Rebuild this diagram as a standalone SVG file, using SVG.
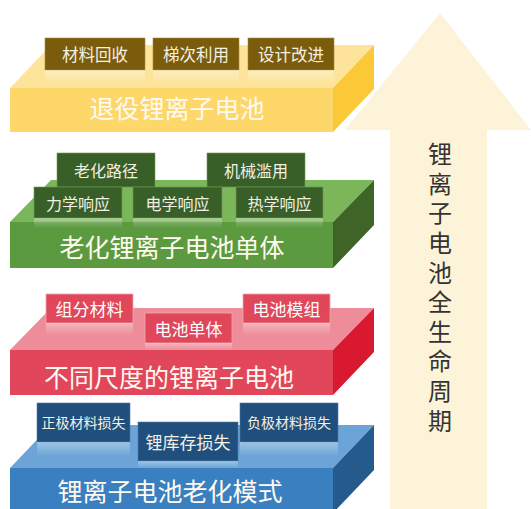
<svg xmlns="http://www.w3.org/2000/svg" width="531" height="509" viewBox="0 0 531 509">
<defs>
<style>
text{font-family:"Noto Sans CJK SC","Noto Sans",sans-serif;text-anchor:middle;dominant-baseline:central}
.main{font-size:25px;fill:#fffaf0}
.lbl{font-size:16px;fill:#f4f0e4}
.arrowtxt{font-size:24px;fill:#333;writing-mode:vertical-rl;text-anchor:start;letter-spacing:5.6px}
.ybox{fill:#7a5c0c;stroke:#a88a40;stroke-width:0.6}
.gbox{fill:#395f29;stroke:#6f9a55;stroke-width:0.6}
.rbox{fill:#e0475a;stroke:#f3a6b0;stroke-width:0.8}
.bbox{fill:#214f7d;stroke:#4f7ca8;stroke-width:0.6}
</style>
<linearGradient id="refl" x1="0" y1="0" x2="0" y2="1">
<stop offset="0" stop-color="#ffffff" stop-opacity="0.35"/>
<stop offset="1" stop-color="#ffffff" stop-opacity="0"/>
</linearGradient>
</defs>

<g id="arrow">
<polygon points="440,13 531,130 487,130 487,509 390,509 390,130 345,130" fill="#fdf3d8"/>
<text class="arrowtxt" x="440" y="142">锂离子电池全生命周期</text>
</g>

<g id="retired">
<polygon points="10,88 333,88 374,45 51,45" fill="#fde49a"/>
<polygon points="333,88 374,45 374,89 333,132" fill="#fbc938"/>
<rect x="10" y="88" width="323" height="44" fill="#fdd76a"/>
<g id="r-recycle"><rect class="ybox" x="45" y="38" width="100" height="32"/><rect x="45" y="70" width="100" height="14" fill="url(#refl)"/><text class="lbl" x="95" y="54" style="font-size:16.5px">材料回收</text></g>
<g id="r-cascade"><rect class="ybox" x="153" y="38" width="86" height="32"/><rect x="153" y="70" width="86" height="14" fill="url(#refl)"/><text class="lbl" x="196" y="54" style="font-size:16.5px">梯次利用</text></g>
<g id="r-design"><rect class="ybox" x="248" y="38" width="86" height="32"/><rect x="248" y="70" width="86" height="14" fill="url(#refl)"/><text class="lbl" x="291" y="54" style="font-size:16.5px">设计改进</text></g>
<text class="main" x="177" y="107">退役锂离子电池</text>
</g>

<g id="aged">
<polygon points="10,222 333,222 374,180 51,180" fill="#7cb65a"/>
<polygon points="333,222 374,180 374,225 333,268" fill="#3f6428"/>
<rect x="10" y="222" width="323" height="46" fill="#5c9a40"/>
<g id="g-path"><rect class="gbox" x="57" y="153" width="98" height="34"/><text class="lbl" x="106" y="170">老化路径</text></g>
<g id="g-abuse"><rect class="gbox" x="207" y="153" width="98" height="34"/><text class="lbl" x="256" y="170">机械滥用</text></g>
<g id="g-mech"><rect class="gbox" x="34" y="187" width="88" height="31"/><rect x="34" y="218" width="88" height="10" fill="url(#refl)"/><text class="lbl" x="78" y="202.5">力学响应</text></g>
<g id="g-elec"><rect class="gbox" x="133" y="187" width="89" height="31"/><rect x="133" y="218" width="89" height="10" fill="url(#refl)"/><text class="lbl" x="177.5" y="202.5">电学响应</text></g>
<g id="g-therm"><rect class="gbox" x="236" y="187" width="87" height="31"/><rect x="236" y="218" width="87" height="10" fill="url(#refl)"/><text class="lbl" x="279.5" y="202.5">热学响应</text></g>
<text class="main" x="172" y="246">老化锂离子电池单体</text>
</g>

<g id="scales">
<polygon points="10,350 333,350 374,308 51,308" fill="#ee8d99"/>
<polygon points="333,350 374,308 374,352 333,395" fill="#d8192f"/>
<rect x="10" y="350" width="323" height="45" fill="#e2465a"/>
<g id="s-material"><rect class="rbox" x="46" y="294" width="87" height="29"/><rect x="46" y="323" width="87" height="12" fill="url(#refl)"/><text class="lbl" x="89.5" y="308.5" style="fill:#fff;font-size:17px">组分材料</text></g>
<g id="s-cell"><rect class="rbox" x="145" y="313" width="87" height="30"/><rect x="145" y="343" width="87" height="7" fill="url(#refl)"/><text class="lbl" x="188.5" y="328" style="fill:#fff;font-size:17px">电池单体</text></g>
<g id="s-module"><rect class="rbox" x="243" y="294" width="87" height="29"/><rect x="243" y="323" width="87" height="12" fill="url(#refl)"/><text class="lbl" x="286.5" y="308.5" style="fill:#fff;font-size:17px">电池模组</text></g>
<text class="main" x="169" y="376">不同尺度的锂离子电池</text>
</g>

<g id="modes">
<polygon points="10,468 333,468 374,425 51,425" fill="#6ca4d7"/>
<polygon points="333,468 374,425 374,470 333,513" fill="#245a8c"/>
<rect x="10" y="468" width="323" height="45" fill="#3a7fc0"/>
<g id="m-cathode"><rect class="bbox" x="37" y="403" width="93" height="39"/><rect x="37" y="442" width="93" height="14" fill="url(#refl)"/><text class="lbl" x="83.5" y="422" style="font-size:14px">正极材料损失</text></g>
<g id="m-anode"><rect class="bbox" x="240" y="403" width="98" height="39"/><rect x="240" y="442" width="98" height="14" fill="url(#refl)"/><text class="lbl" x="289" y="422" style="font-size:14px">负极材料损失</text></g>
<g id="m-lithium"><rect class="bbox" x="138" y="422" width="100" height="39"/><rect x="138" y="461" width="100" height="7" fill="url(#refl)"/><text class="lbl" x="188" y="441.5" style="font-size:17px">锂库存损失</text></g>
<text class="main" x="170" y="490">锂离子电池老化模式</text>
</g>

<g id="connectors"/>
</svg>
